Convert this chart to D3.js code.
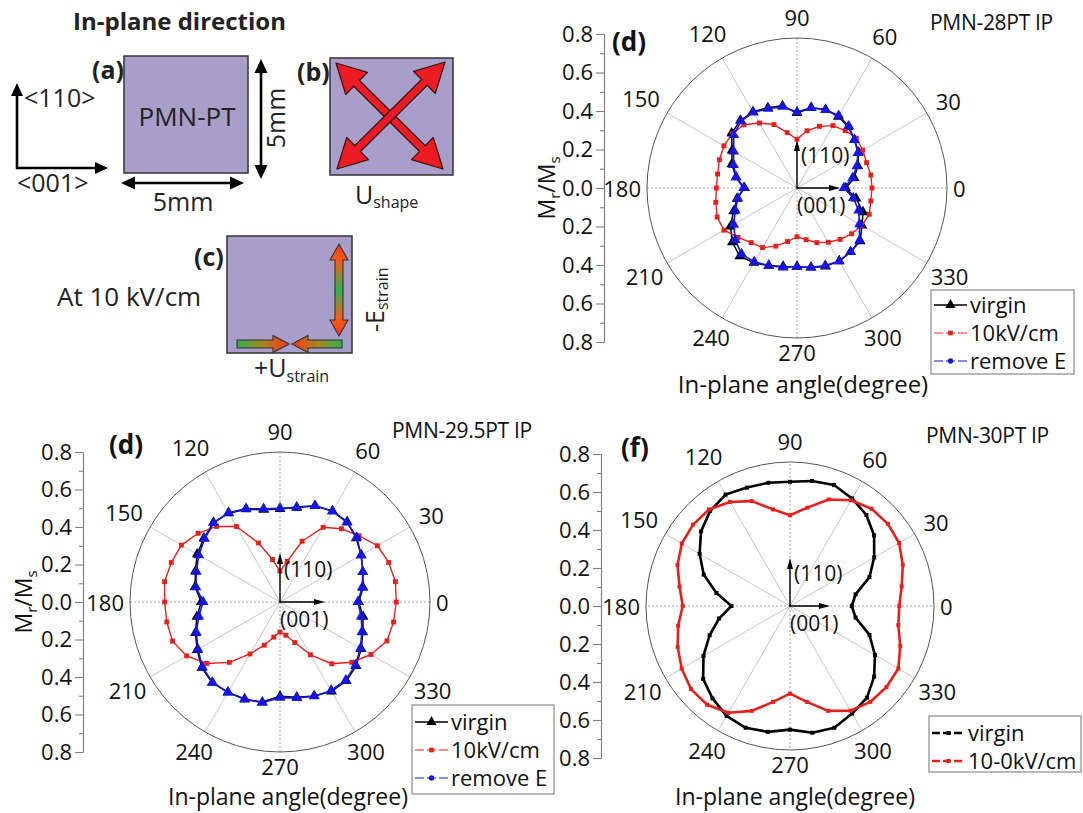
<!DOCTYPE html>
<html>
<head>
<meta charset="utf-8">
<script src="https://cdn.jsdelivr.net/npm/d3@7"></script>
<style>
  body { margin: 0; background: #fff; }
  svg { display: block; }
</style>
</head>
<body>
<svg id="fig" width="1083" height="813"></svg>
<script>
// ---- measurement angles (degrees, in-plane) ----
const angles = [0, 10, 20, 30, 40, 50, 60, 70, 80, 90, 100, 110, 120, 130, 140, 150, 160, 170,
                180, 190, 200, 210, 220, 230, 240, 250, 260, 270, 280, 290, 300, 310, 320, 330, 340, 350];
const angleTicks = [0, 30, 60, 90, 120, 150, 180, 210, 240, 270, 300, 330];
const radialTicks = [-0.8, -0.6, -0.4, -0.2, 0, 0.2, 0.4, 0.6, 0.8];
const radialMinor = [-0.7, -0.5, -0.3, -0.1, 0.1, 0.3, 0.5, 0.7];

// ---- PMN-28PT, Mr/Ms ----
const virgin28  = [0.26, 0.31, 0.345, 0.38, 0.40, 0.425, 0.44, 0.445, 0.435, 0.40, 0.445, 0.455, 0.47, 0.47, 0.455, 0.40, 0.37, 0.33,
                   0.28, 0.325, 0.36, 0.41, 0.45, 0.475, 0.46, 0.44, 0.425, 0.42, 0.43, 0.445, 0.45, 0.445, 0.44, 0.40, 0.375, 0.32];
const field28   = [0.40, 0.40, 0.395, 0.405, 0.413, 0.40, 0.384, 0.35, 0.31, 0.26, 0.30, 0.36, 0.40, 0.44, 0.45, 0.45, 0.44, 0.43,
                   0.43, 0.44, 0.453, 0.45, 0.41, 0.38, 0.367, 0.33, 0.29, 0.26, 0.28, 0.31, 0.334, 0.358, 0.38, 0.40, 0.41, 0.40];
const removed28 = [0.25, 0.30, 0.34, 0.375, 0.40, 0.43, 0.445, 0.445, 0.435, 0.405, 0.44, 0.45, 0.465, 0.465, 0.44, 0.39, 0.36, 0.33,
                   0.285, 0.32, 0.35, 0.39, 0.43, 0.46, 0.455, 0.44, 0.43, 0.42, 0.43, 0.44, 0.45, 0.445, 0.435, 0.385, 0.35, 0.305];

// ---- PMN-29.5PT, Mr/Ms ----
const virgin295  = [0.42, 0.45, 0.47, 0.50, 0.53, 0.558, 0.56, 0.547, 0.514, 0.496, 0.50, 0.527, 0.547, 0.553, 0.53, 0.51, 0.48, 0.46,
                    0.42, 0.45, 0.48, 0.51, 0.545, 0.562, 0.556, 0.553, 0.542, 0.503, 0.516, 0.533, 0.55, 0.55, 0.53, 0.50, 0.47, 0.45];
const field295   = [0.62, 0.625, 0.617, 0.60, 0.55, 0.51, 0.46, 0.345, 0.22, 0.165, 0.23, 0.335, 0.465, 0.526, 0.57, 0.607, 0.617, 0.625,
                    0.615, 0.613, 0.61, 0.575, 0.51, 0.42, 0.32, 0.245, 0.19, 0.16, 0.18, 0.23, 0.325, 0.43, 0.50, 0.56, 0.607, 0.615];
const removed295 = [0.415, 0.445, 0.47, 0.50, 0.535, 0.555, 0.56, 0.545, 0.51, 0.50, 0.505, 0.53, 0.55, 0.55, 0.525, 0.50, 0.475, 0.455,
                    0.41, 0.44, 0.475, 0.505, 0.54, 0.56, 0.555, 0.55, 0.545, 0.51, 0.52, 0.535, 0.545, 0.545, 0.525, 0.495, 0.465, 0.44];

// ---- PMN-30PT, Mr/Ms ----
const virgin30 = [0.343, 0.37, 0.47, 0.54, 0.61, 0.66, 0.69, 0.715, 0.705, 0.69, 0.695, 0.70, 0.715, 0.69, 0.645, 0.58, 0.51, 0.415,
                  0.325, 0.40, 0.475, 0.555, 0.63, 0.67, 0.705, 0.72, 0.71, 0.687, 0.715, 0.72, 0.69, 0.665, 0.61, 0.545, 0.47, 0.37];
const field30  = [0.607, 0.63, 0.667, 0.70, 0.71, 0.705, 0.678, 0.63, 0.555, 0.504, 0.545, 0.62, 0.667, 0.70, 0.703, 0.694, 0.665, 0.623,
                  0.596, 0.631, 0.664, 0.695, 0.718, 0.716, 0.685, 0.62, 0.541, 0.487, 0.541, 0.62, 0.672, 0.695, 0.70, 0.695, 0.652, 0.611];

const FONT = '"Open Sans", "DejaVu Sans", sans-serif';
const RED = "#e8201c", BLUE = "#1515e6", BLACK = "#000";
const svg = d3.select("#fig").attr("font-family", FONT);

// ---------- shared arrow geometry ----------
function arrowPoints(x1, y1, x2, y2, shaft, headLen, headW, doubleEnded) {
  const L = Math.hypot(x2 - x1, y2 - y1);
  const ux = (x2 - x1) / L, uy = (y2 - y1) / L;
  const nx = -uy, ny = ux;
  const P = (bx, by, k) => [bx + nx * k, by + ny * k];
  const b2 = [x2 - ux * headLen, y2 - uy * headLen];
  const pts = [];
  if (doubleEnded) {
    const b1 = [x1 + ux * headLen, y1 + uy * headLen];
    pts.push([x1, y1], P(b1[0], b1[1], headW / 2), P(b1[0], b1[1], shaft / 2),
             P(b2[0], b2[1], shaft / 2), P(b2[0], b2[1], headW / 2), [x2, y2],
             P(b2[0], b2[1], -headW / 2), P(b2[0], b2[1], -shaft / 2),
             P(b1[0], b1[1], -shaft / 2), P(b1[0], b1[1], -headW / 2));
  } else {
    pts.push(P(x1, y1, shaft / 2), P(b2[0], b2[1], shaft / 2), P(b2[0], b2[1], headW / 2), [x2, y2],
             P(b2[0], b2[1], -headW / 2), P(b2[0], b2[1], -shaft / 2), P(x1, y1, -shaft / 2));
  }
  return pts.map(p => p.join(",")).join(" ");
}

// ---------- schematic of the sample ----------
const defs = svg.append("defs");
function grad(id, x1, y1, x2, y2, stops) {
  const g = defs.append("linearGradient").attr("id", id).attr("gradientUnits", "userSpaceOnUse")
    .attr("x1", x1).attr("y1", y1).attr("x2", x2).attr("y2", y2);
  stops.forEach(([o, c]) => g.append("stop").attr("offset", o).attr("stop-color", c));
}
const GREEN = "#2fb24a", ORANGE = "#ff3a12";
grad("gV", 0, 245, 0, 335, [[0, ORANGE], [0.2, "#f0601c"], [0.5, GREEN], [0.8, "#f0601c"], [1, ORANGE]]);
grad("gL", 237, 0, 288, 0, [[0, GREEN], [0.45, "#9a8a28"], [1, ORANGE]]);
grad("gR", 342, 0, 293, 0, [[0, GREEN], [0.45, "#9a8a28"], [1, ORANGE]]);

const sch = svg.append("g");
const PURPLE = "#a89ec9";
sch.append("text").attr("x", 73).attr("y", 30).attr("font-size", 24).attr("font-weight", "bold")
  .attr("fill", "#222").text("In-plane direction");

// crystal directions
sch.append("polygon").attr("points", arrowPoints(17, 169, 17, 83, 2.6, 13, 12, false)).attr("fill", "#000");
sch.append("polygon").attr("points", arrowPoints(16, 168, 108, 168, 2.6, 13, 12, false)).attr("fill", "#000");
sch.append("text").attr("x", 24).attr("y", 107).attr("font-size", 25).attr("fill", "#222").text("<110>");
sch.append("text").attr("x", 17).attr("y", 192).attr("font-size", 25).attr("fill", "#222").text("<001>");

// (a)
sch.append("rect").attr("x", 124).attr("y", 56).attr("width", 124).attr("height", 117)
  .attr("fill", PURPLE).attr("stroke", "#333").attr("stroke-width", 1.5);
sch.append("text").attr("x", 187).attr("y", 126).attr("font-size", 26).attr("text-anchor", "middle").attr("fill", "#222").text("PMN-PT");
sch.append("text").attr("x", 92).attr("y", 79).attr("font-size", 25).attr("font-weight", "bold").attr("fill", "#222").text("(a)");
sch.append("polygon").attr("points", arrowPoints(261, 59, 261, 179, 2.6, 14, 13, true)).attr("fill", "#000");
sch.append("polygon").attr("points", arrowPoints(121, 183, 244, 183, 2.6, 14, 13, true)).attr("fill", "#000");
sch.append("text").attr("x", 183).attr("y", 211).attr("font-size", 25).attr("text-anchor", "middle").attr("fill", "#222").text("5mm");
sch.append("text").attr("transform", "translate(285,118) rotate(-90)").attr("font-size", 25)
  .attr("text-anchor", "middle").attr("fill", "#222").text("5mm");

// (b)
sch.append("rect").attr("x", 330).attr("y", 58).attr("width", 123).attr("height", 117)
  .attr("fill", PURPLE).attr("stroke", "#333").attr("stroke-width", 1.5);
sch.append("text").attr("x", 297).attr("y", 81).attr("font-size", 25).attr("font-weight", "bold").attr("fill", "#222").text("(b)");
[[336, 63, 443, 169], [445, 62, 337, 169]].forEach(([a, b, c, d]) =>
  sch.append("polygon").attr("points", arrowPoints(a, b, c, d, 8, 29, 31, true))
    .attr("fill", "#ed1c24").attr("stroke", "#3a1414").attr("stroke-width", 1.3).attr("stroke-linejoin", "round"));
const ush = sch.append("text").attr("x", 355).attr("y", 204).attr("font-size", 25).attr("fill", "#222");
ush.append("tspan").text("U");
ush.append("tspan").attr("font-size", 16).attr("dy", 4).text("shape");

// (c)
sch.append("rect").attr("x", 227).attr("y", 236).attr("width", 125).attr("height", 117)
  .attr("fill", PURPLE).attr("stroke", "#333").attr("stroke-width", 1.5);
sch.append("text").attr("x", 194).attr("y", 266).attr("font-size", 25).attr("font-weight", "bold").attr("fill", "#222").text("(c)");
sch.append("text").attr("x", 57).attr("y", 306).attr("font-size", 26).attr("fill", "#222").text("At 10 kV/cm");
sch.append("polygon").attr("points", arrowPoints(339, 244, 339, 336, 8, 16, 18, true))
  .attr("fill", "url(#gV)").attr("stroke", "#333").attr("stroke-width", 1.1);
sch.append("polygon").attr("points", arrowPoints(237, 344, 289, 344, 8, 16, 17, false))
  .attr("fill", "url(#gL)").attr("stroke", "#333").attr("stroke-width", 1.1);
sch.append("polygon").attr("points", arrowPoints(342, 344, 292, 344, 8, 16, 17, false))
  .attr("fill", "url(#gR)").attr("stroke", "#333").attr("stroke-width", 1.1);
const est = sch.append("text").attr("transform", "translate(384,332) rotate(-90)").attr("font-size", 25).attr("fill", "#222");
est.append("tspan").text("-E");
est.append("tspan").attr("font-size", 16).attr("dy", 4).text("strain");
const ust = sch.append("text").attr("x", 254).attr("y", 377).attr("font-size", 25).attr("fill", "#222");
ust.append("tspan").text("+U");
ust.append("tspan").attr("font-size", 16).attr("dy", 5).text("strain");

// ---------- polar panels ----------
const rad = a => (90 - a) * Math.PI / 180;   // d3 radial angle: 0 at top, clockwise

function polarPanel(cfg) {
  const r = d3.scaleLinear().domain([0, 0.8]).range([0, cfg.R]);
  const g = svg.append("g").attr("transform", `translate(${cfg.cx},${cfg.cy})`);

  // spokes and outer ring
  g.selectAll("line.spoke").data(angleTicks).join("line").attr("class", "spoke")
    .attr("x1", 0).attr("y1", 0)
    .attr("x2", a => d3.pointRadial(rad(a), cfg.R)[0])
    .attr("y2", a => d3.pointRadial(rad(a), cfg.R)[1])
    .attr("stroke", a => a % 90 === 0 ? "#8a8a8a" : "#b8b8b8")
    .attr("stroke-width", 0.8)
    .attr("stroke-dasharray", a => a % 90 === 0 ? "2,2" : null);
  g.append("circle").attr("r", cfg.R).attr("fill", "none").attr("stroke", "#555").attr("stroke-width", 1);

  // angular labels
  g.selectAll("text.alab").data(angleTicks).join("text").attr("class", "alab")
    .attr("font-size", 22).attr("text-anchor", "middle").attr("dominant-baseline", "central")
    .attr("fill", "#111")
    .text(a => a)
    .each(function (a) {
      const w = this.getComputedTextLength(), h = 15;
      const c = Math.cos(a * Math.PI / 180), s = Math.sin(a * Math.PI / 180);
      const extra = s > 0 ? 8 : 0;
      const d = cfg.R + 6 + (w / 2) * Math.abs(c) + (h / 2 + extra) * Math.abs(s);
      d3.select(this).attr("x", d * c).attr("y", -d * s);
    });

  // data curves
  const line = d3.lineRadial().angle(d => rad(d.a)).radius(d => r(d.v)).curve(d3.curveLinearClosed);
  cfg.series.forEach(s => {
    const pts = angles.map((a, i) => ({ a, v: s.values[i] }));
    g.append("path").attr("d", line(pts)).attr("fill", "none")
      .attr("stroke", s.color).attr("stroke-width", s.width).attr("stroke-linejoin", "round");
    g.append("g").selectAll("path").data(pts).join("path")
      .attr("d", d3.symbol(s.symbol, s.size))
      .attr("transform", d => { const [x, y] = d3.pointRadial(rad(d.a), r(d.v)); return `translate(${x},${y})`; })
      .attr("fill", s.color);
  });

  // crystal axes inside the plot
  g.append("polygon").attr("points", arrowPoints(0, 0.5, 0, -cfg.up, 1.4, 11, 6, false)).attr("fill", "#000");
  g.append("polygon").attr("points", arrowPoints(-0.5, 0, cfg.right, 0, 1.4, 11, 6, false)).attr("fill", "#000");
  g.append("text").attr("x", 4).attr("y", -25).attr("font-size", 21).attr("fill", "#111").text("(110)");
  g.append("text").attr("x", 0).attr("y", 25).attr("font-size", 21).attr("fill", "#111").text("(001)");

  // radial (Mr/Ms) axis on the left
  const ys = d3.scaleLinear().domain([-0.8, 0.8]).range([cfg.cy + cfg.axisHalf, cfg.cy - cfg.axisHalf]);
  const minor = svg.append("g").attr("transform", `translate(${cfg.axisX},0)`)
    .call(d3.axisLeft(ys).tickValues(radialMinor).tickSize(4).tickSizeOuter(0).tickFormat(""));
  const major = svg.append("g").attr("transform", `translate(${cfg.axisX},0)`)
    .call(d3.axisLeft(ys).tickValues(radialTicks).tickSize(8).tickSizeOuter(0).tickPadding(3)
      .tickFormat(v => Math.abs(v).toFixed(1)));
  [minor, major].forEach(a => {
    a.selectAll("path, line").attr("stroke", "#808080").attr("stroke-width", 1.1);
    a.selectAll("text").attr("font-size", 22).attr("font-family", FONT).attr("fill", "#111");
  });

  // titles
  svg.append("text").attr("x", cfg.tagX).attr("y", cfg.tagY).attr("font-size", 26)
    .attr("font-weight", "bold").attr("fill", "#111").text(cfg.tag);
  svg.append("text").attr("x", cfg.titleX).attr("y", cfg.titleY).attr("font-size", 21)
    .attr("letter-spacing", -0.3).attr("fill", "#111").text(cfg.title);
  svg.append("text").attr("x", cfg.cx + (cfg.xlabDx || 0)).attr("y", cfg.xlabY).attr("font-size", cfg.xlabSize)
    .attr("text-anchor", "middle").attr("fill", "#111").text("In-plane angle(degree)");
  if (cfg.ylabX !== undefined) {
    const yl = svg.append("text").attr("transform", `translate(${cfg.ylabX},${cfg.cy}) rotate(-90)`)
      .attr("font-size", 23).attr("text-anchor", "middle").attr("fill", "#111");
    yl.append("tspan").text("M");
    yl.append("tspan").attr("font-size", 15).attr("dy", 5).text("r");
    yl.append("tspan").attr("dy", -5).text("/M");
    yl.append("tspan").attr("font-size", 15).attr("dy", 5).text("s");
  }

  // legend
  const L = cfg.legend;
  const lg = svg.append("g");
  lg.append("rect").attr("x", L.x).attr("y", L.y).attr("width", L.w).attr("height", L.h)
    .attr("fill", "#fff").attr("stroke", "#8a8a8a").attr("stroke-width", 1.2);
  L.items.forEach((it, i) => {
    const yy = L.y + L.first + i * L.step;
    lg.append("line").attr("x1", L.x + 3).attr("x2", L.x + 36).attr("y1", yy).attr("y2", yy)
      .attr("stroke", it.color).attr("stroke-width", it.lw).attr("stroke-dasharray", it.dash || null);
    lg.append("path").attr("d", d3.symbol(it.symbol, it.size)())
      .attr("transform", `translate(${L.x + 19.5},${yy})`).attr("fill", it.color);
    lg.append("text").attr("x", L.x + 39).attr("y", yy + 8).attr("font-size", 22).attr("fill", "#111").text(it.name);
  });
}

const tri = d3.symbolTriangle, sq = d3.symbolSquare, circ = d3.symbolCircle;

polarPanel({
  cx: 797, cy: 188, R: 150, axisX: 604, axisHalf: 154, up: 48, right: 43,
  tag: "(d)", tagX: 612, tagY: 51, title: "PMN-28PT IP", titleX: 930, titleY: 30,
  xlabY: 393, xlabSize: 24, xlabDx: 6, ylabX: 555,
  series: [
    { values: virgin28, color: BLACK, width: 1.5, symbol: tri, size: 50 },
    { values: field28, color: RED, width: 1.4, symbol: sq, size: 24 },
    { values: removed28, color: BLUE, width: 1.6, symbol: tri, size: 50 }
  ],
  legend: { x: 931, y: 290, w: 143, h: 84, first: 15, step: 28, items: [
    { name: "virgin", color: BLACK, lw: 1.3, symbol: tri, size: 45 },
    { name: "10kV/cm", color: RED, lw: 1.2, dash: "9,3", symbol: sq, size: 22 },
    { name: "remove E", color: BLUE, lw: 1.2, dash: "9,3", symbol: circ, size: 22 }
  ] }
});

polarPanel({
  cx: 280, cy: 602, R: 150, axisX: 83, axisHalf: 150, up: 49, right: 45,
  tag: "(d)", tagX: 109, tagY: 454, title: "PMN-29.5PT IP", titleX: 392, titleY: 438,
  xlabY: 805, xlabSize: 23, xlabDx: 8, ylabX: 32,
  series: [
    { values: virgin295, color: BLACK, width: 1.5, symbol: tri, size: 50 },
    { values: field295, color: RED, width: 1.4, symbol: sq, size: 24 },
    { values: removed295, color: BLUE, width: 1.6, symbol: tri, size: 50 }
  ],
  legend: { x: 412, y: 705, w: 142, h: 89, first: 17, step: 28, items: [
    { name: "virgin", color: BLACK, lw: 1.3, symbol: tri, size: 45 },
    { name: "10kV/cm", color: RED, lw: 1.2, dash: "9,3", symbol: sq, size: 22 },
    { name: "remove E", color: BLUE, lw: 1.2, dash: "9,3", symbol: circ, size: 22 }
  ] }
});

polarPanel({
  cx: 790, cy: 606, R: 144, axisX: 601, axisHalf: 152, up: 48, right: 40,
  tag: "(f)", tagX: 621, tagY: 457, title: "PMN-30PT IP", titleX: 926, titleY: 443,
  xlabY: 805, xlabSize: 23, xlabDx: 5,
  series: [
    { values: virgin30, color: BLACK, width: 2.6, symbol: sq, size: 16 },
    { values: field30, color: RED, width: 2.6, symbol: sq, size: 16 }
  ],
  legend: { x: 929, y: 716, w: 152, h: 56, first: 17, step: 28, items: [
    { name: "virgin", color: BLACK, lw: 2.6, dash: "8,3", symbol: sq, size: 16 },
    { name: "10-0kV/cm", color: RED, lw: 2.6, dash: "8,3", symbol: sq, size: 16 }
  ] }
});
</script>
</body>
</html>
